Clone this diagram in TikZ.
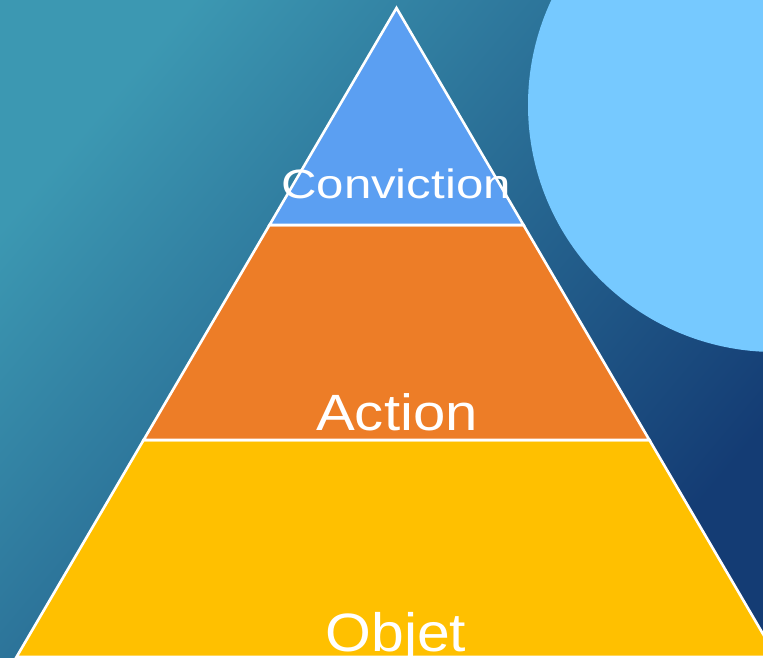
\documentclass[tikz,border=0pt]{standalone}
\usepackage{fontspec}
\setmainfont{Liberation Sans}
\definecolor{bgA}{HTML}{3C98B2}
\definecolor{bgB}{HTML}{2A6F9A}
\definecolor{bgC}{HTML}{143C74}
\definecolor{circ}{HTML}{76C9FF}
\definecolor{tierTop}{HTML}{5B9FF2}
\definecolor{tierMid}{HTML}{ED7D27}
\definecolor{tierBot}{HTML}{FFC000}
\tikzset{
  tier/.style={draw=white, line width=2.6pt, line join=miter},
  lbl/.style={text=white, anchor=base, inner sep=0pt}
}
\begin{document}
\begin{tikzpicture}[x=1pt,y=-1pt]
\path[use as bounding box, clip] (0,0) rectangle (763,657);
\shade[top color=bgA, middle color=bgB, bottom color=bgC, shading angle=50] (0,0) rectangle (763,657);
\fill[circ] (775,105) circle (247);
\coordinate (apex) at (396.5,8);
\coordinate (l1) at (269.5,225);
\coordinate (r1) at (523.5,225);
\coordinate (l2) at (143.6,440);
\coordinate (r2) at (649.4,440);
\coordinate (l3) at (16.5,657);
\coordinate (r3) at (776.5,657);
\filldraw[tier, fill=tierBot] (l2) -- (r2) -- (r3) -- (l3) -- cycle;
\filldraw[tier, fill=tierMid] (l1) -- (r1) -- (r2) -- (l2) -- cycle;
\filldraw[tier, fill=tierTop] (apex) -- (r1) -- (l1) -- cycle;
\node[lbl, font=\fontsize{41}{41}\selectfont, xscale=1.2] (conv) at (396,198) {Conviction};
\node[lbl, font=\fontsize{51}{51}\selectfont, xscale=1.14] (act) at (397,430) {Action};
\node[lbl, font=\fontsize{54}{54}\selectfont, xscale=1.09] (obj) at (396,651) {Objet};
\end{tikzpicture}
\end{document}
